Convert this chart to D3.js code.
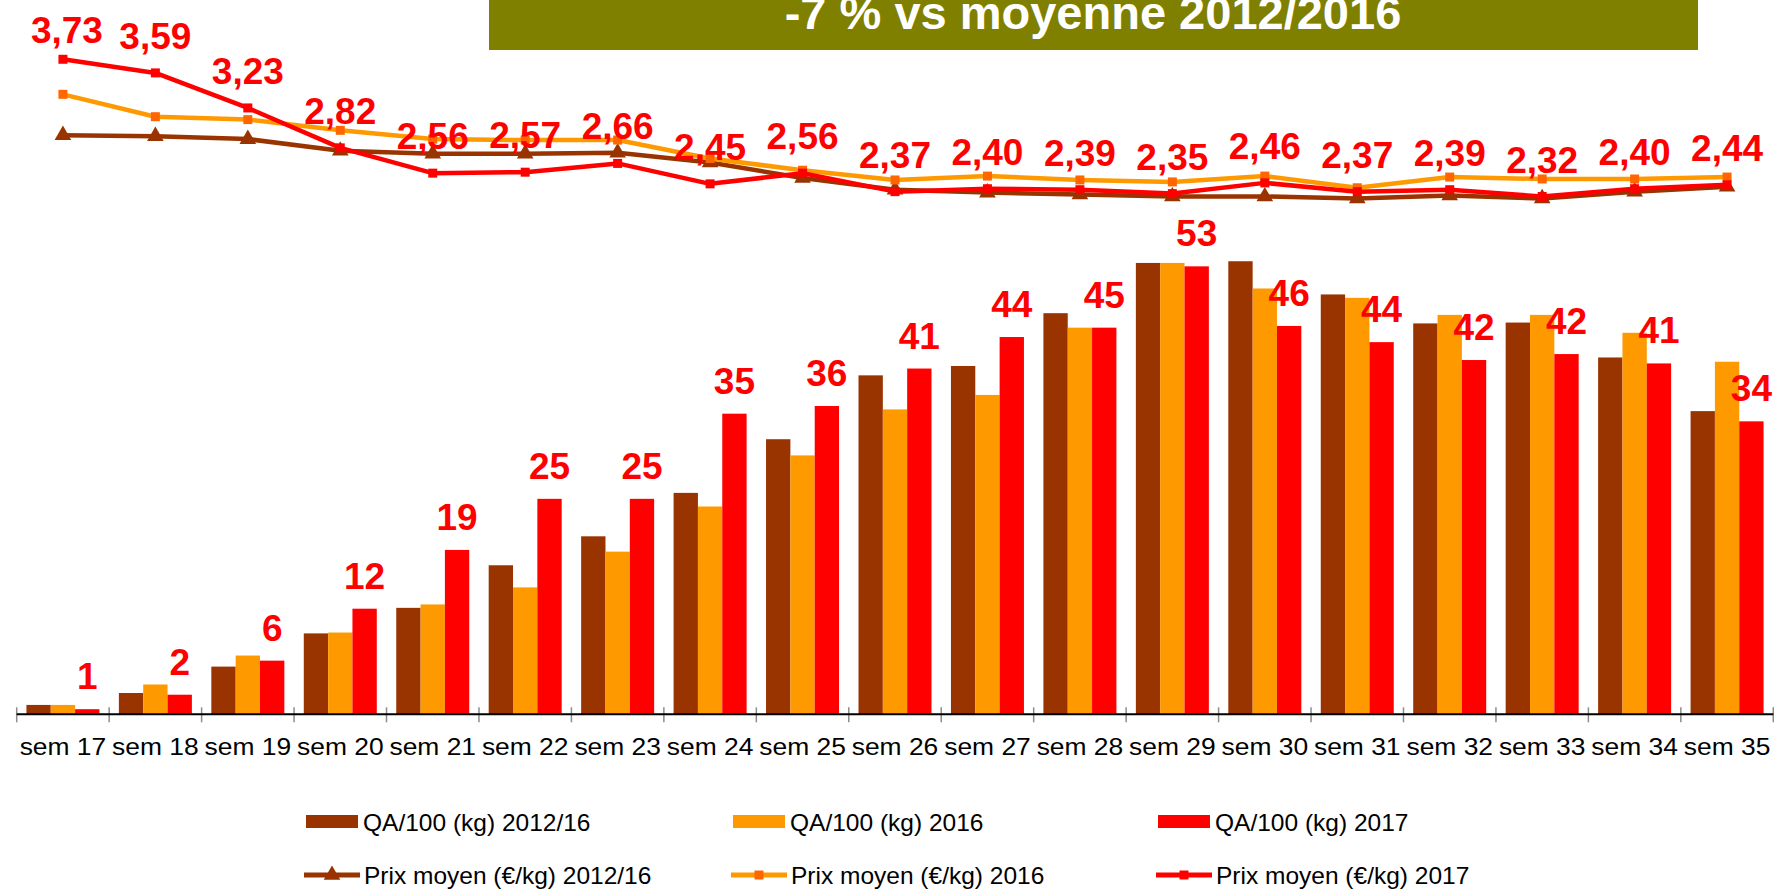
<!DOCTYPE html>
<html>
<head>
<meta charset="utf-8">
<script src="https://cdn.jsdelivr.net/npm/d3@7"></script>
<style>
    body { margin: 0; background: #fff; }
    svg { display: block; font-family: "Liberation Sans", Arial, sans-serif; }
</style>
</head>
<body>
<svg id="chart" width="1774" height="890"></svg>
<script>
// Data
const weeks = ["sem 17", "sem 18", "sem 19", "sem 20", "sem 21", "sem 22", "sem 23", "sem 24", "sem 25", "sem 26",
    "sem 27", "sem 28", "sem 29", "sem 30", "sem 31", "sem 32", "sem 33", "sem 34", "sem 35"];

// QA/100 (kg)
const qa1216 = [1.1, 2.5, 5.6, 9.5, 12.5, 17.5, 20.9, 26.0, 32.3, 39.8, 40.9, 47.1, 53.0, 53.2, 49.3, 45.9, 46.0, 41.9, 35.6];
const qa2016 = [1.1, 3.5, 6.9, 9.6, 12.9, 14.9, 19.1, 24.4, 30.4, 35.8, 37.5, 45.4, 53.0, 50.0, 48.9, 46.9, 46.9, 44.8, 41.4];
const qa2017 = [0.6, 2.3, 6.3, 12.4, 19.3, 25.3, 25.3, 35.3, 36.2, 40.6, 44.3, 45.4, 52.6, 45.6, 43.7, 41.6, 42.3, 41.2, 34.4];

// Prix moyen (€/kg)
const prix1216 = [2.95, 2.94, 2.91, 2.79, 2.76, 2.76, 2.77, 2.67, 2.51, 2.39, 2.36, 2.34, 2.32, 2.32, 2.30, 2.33, 2.30, 2.37, 2.42];
const prix2016 = [3.37, 3.14, 3.11, 3.00, 2.91, 2.90, 2.90, 2.71, 2.59, 2.49, 2.53, 2.49, 2.47, 2.53, 2.41, 2.52, 2.50, 2.50, 2.52];
const prix2017 = [3.73, 3.59, 3.23, 2.82, 2.56, 2.57, 2.66, 2.45, 2.56, 2.37, 2.40, 2.39, 2.35, 2.46, 2.37, 2.39, 2.32, 2.40, 2.44];

const title = "-7 % vs moyenne 2012/2016";

// Colors
const colors = {
    brown: "#993300",
    orange: "#FF9900",
    orangeMarker: "#FF6600",
    red: "#FF0000",
    olive: "#808000",
};

const barSeries = [
    { name: "QA/100 (kg) 2012/16", values: qa1216, color: colors.brown },
    { name: "QA/100 (kg) 2016", values: qa2016, color: colors.orange },
    { name: "QA/100 (kg) 2017", values: qa2017, color: colors.red },
];
const lineSeries = [
    { name: "Prix moyen (€/kg) 2012/16", values: prix1216, color: colors.brown, marker: "triangle", markerColor: colors.brown },
    { name: "Prix moyen (€/kg) 2016", values: prix2016, color: colors.orange, marker: "square", markerColor: colors.orangeMarker },
    { name: "Prix moyen (€/kg) 2017", values: prix2017, color: colors.red, marker: "square", markerColor: colors.red },
];

const svg = d3.select("#chart");

// Plot area
const plot = { left: 16.7, right: 1773.3, top: 33, bottom: 714.3 };

const x = d3.scaleBand().domain(weeks).range([plot.left, plot.right]).padding(0);
const xSub = d3.scaleBand().domain(d3.range(barSeries.length)).range([-36.5, 36.5]);
const yBar = d3.scaleLinear().domain([0, 80]).range([plot.bottom, plot.top]);
const yPrix = d3.scaleLinear().domain([-3, 4]).range([plot.bottom, plot.top]);
const cx = (w) => x(w) + x.bandwidth() / 2;

const fmtInt = d3.format(".0f");
const fmtPrix = (v) => d3.format(".2f")(v).replace(".", ",");

drawTitle();
drawBars();
drawAxis();
drawLines();
drawLegend();

function drawTitle() {
    svg.append("rect")
        .attr("x", 489).attr("y", 0)
        .attr("width", 1209).attr("height", 50)
        .attr("fill", colors.olive);
    svg.append("text")
        .attr("x", 1093).attr("y", 29)
        .attr("text-anchor", "middle")
        .attr("fill", "#fff")
        .attr("font-weight", "bold")
        .attr("font-size", 47)
        .text(title);
}

function drawBars() {
    const groups = svg.append("g")
        .selectAll("g")
        .data(barSeries)
        .join("g")
        .attr("fill", (s) => s.color);

    groups.selectAll("rect")
        .data((s, i) => s.values.map((v, j) => ({ week: weeks[j], value: v, idx: i })))
        .join("rect")
        .attr("x", (d) => cx(d.week) + xSub(d.idx))
        .attr("y", (d) => yBar(d.value))
        .attr("width", xSub.bandwidth())
        .attr("height", (d) => yBar(0) - yBar(d.value));

    // Data labels on the 2017 bars
    svg.append("g")
        .attr("fill", colors.red)
        .attr("font-weight", "bold")
        .attr("font-size", 37)
        .attr("text-anchor", "middle")
        .selectAll("text")
        .data(qa2017.map((v, j) => ({ week: weeks[j], value: v })))
        .join("text")
        .attr("x", (d) => cx(d.week) + xSub(2) + xSub.bandwidth() / 2)
        .attr("y", (d) => yBar(d.value) - 20)
        .text((d) => fmtInt(d.value));
}

function drawAxis() {
    const axis = svg.append("g")
        .attr("transform", `translate(0,${plot.bottom})`)
        .call(d3.axisBottom(x).tickSize(0).tickPadding(0));
    axis.select(".domain").remove();
    axis.selectAll(".tick text")
        .attr("y", 41)
        .attr("dy", 0)
        .attr("fill", "#000")
        .attr("font-size", 24)
        .attr("font-family", "\"Liberation Sans\", Arial, sans-serif")
        .attr("transform", "scale(1.1,1)");

    // Tick marks sit between categories
    const bounds = d3.range(weeks.length + 1).map((i) => plot.left + i * x.step());
    axis.append("g")
        .selectAll("line")
        .data(bounds)
        .join("line")
        .attr("x1", (d) => d).attr("x2", (d) => d)
        .attr("y1", -7).attr("y2", 8)
        .attr("stroke", "#8c8c8c")
        .attr("stroke-width", 1.5);

    axis.append("line")
        .attr("x1", plot.left).attr("x2", plot.right)
        .attr("stroke", "#000")
        .attr("stroke-width", 2);
}

function markerPath(type) {
    return type === "triangle"
        ? d3.symbol(d3.symbolTriangle, 120)()
        : "M-4.5,-4.5H4.5V4.5H-4.5Z";
}

function drawLines() {
    const line = d3.line()
        .x((d, i) => cx(weeks[i]))
        .y((d) => yPrix(d));

    const g = svg.append("g");
    lineSeries.forEach((s) => {
        g.append("path")
            .datum(s.values)
            .attr("fill", "none")
            .attr("stroke", s.color)
            .attr("stroke-width", 4.5)
            .attr("stroke-linejoin", "round")
            .attr("d", line);
        g.append("g")
            .attr("fill", s.markerColor)
            .selectAll("path")
            .data(s.values)
            .join("path")
            .attr("transform", (d, i) => `translate(${cx(weeks[i])},${yPrix(d)})`)
            .attr("d", markerPath(s.marker));
    });

    // Price labels (2017)
    g.append("g")
        .attr("fill", colors.red)
        .attr("font-weight", "bold")
        .attr("font-size", 37)
        .attr("text-anchor", "middle")
        .selectAll("text")
        .data(prix2017)
        .join("text")
        .attr("x", (d, i) => cx(weeks[i]) + (i === 0 ? 4 : 0))
        .attr("y", (d) => Math.max(yPrix(d) - 24, 43))
        .text((d) => fmtPrix(d));
}

function drawLegend() {
    const cols = [306, 733, 1158];
    const rows = [821.5, 875];
    const legend = svg.append("g").attr("font-size", 24.5).attr("fill", "#000");

    barSeries.forEach((s, i) => {
        const item = legend.append("g").attr("transform", `translate(${cols[i]},${rows[0]})`);
        item.append("rect")
            .attr("x", 0).attr("y", -6.5)
            .attr("width", 52).attr("height", 13)
            .attr("fill", s.color);
        item.append("text").attr("x", 57).attr("y", 9).text(s.name);
    });

    lineSeries.forEach((s, i) => {
        const item = legend.append("g").attr("transform", `translate(${cols[i]},${rows[1]})`);
        item.append("line")
            .attr("x1", -2).attr("x2", 54)
            .attr("stroke", s.color)
            .attr("stroke-width", 5);
        item.append("path")
            .attr("transform", "translate(26,0)")
            .attr("fill", s.markerColor)
            .attr("d", markerPath(s.marker));
        item.append("text").attr("x", 58).attr("y", 9).text(s.name);
    });
}
</script>
</body>
</html>
